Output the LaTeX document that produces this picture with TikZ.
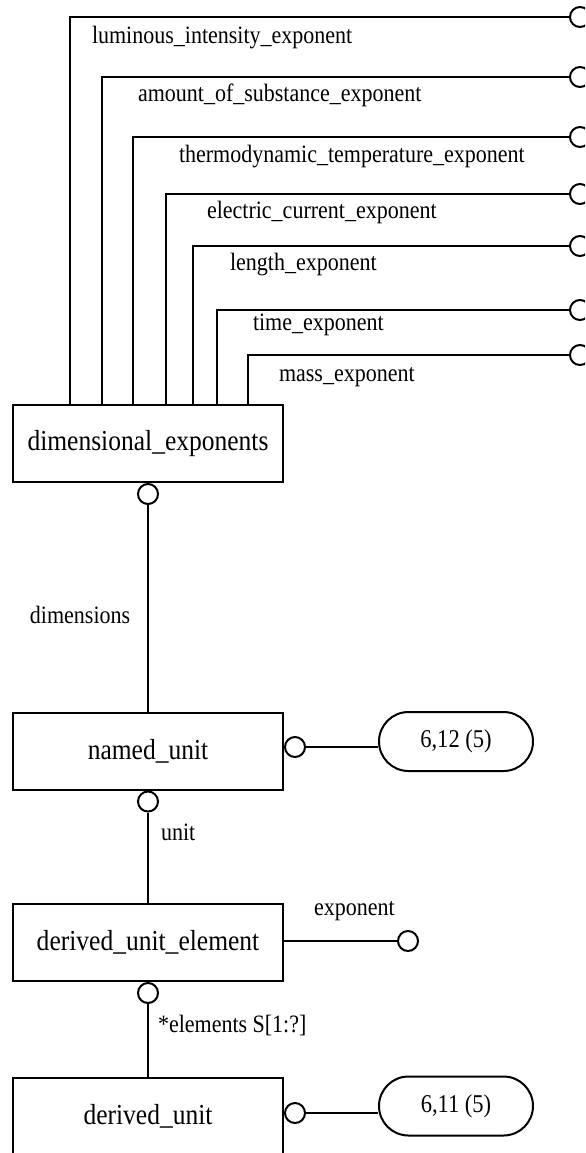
\documentclass[tikz,border=0pt]{standalone}
\usepackage{fontspec}
\setmainfont{Liberation Serif}[FakeStretch=0.88]
\usetikzlibrary{positioning}
\usetikzlibrary{shapes.misc}

\tikzset{
  entity/.style={draw, minimum width=135pt, minimum height=38.5pt, inner sep=0pt, font=\fontsize{14.5}{17}\selectfont},
  ring/.style={draw, circle, fill=white, minimum size=10pt, inner sep=0pt},
  pagebox/.style={draw, rounded rectangle, minimum width=77pt, minimum height=29.5pt, inner sep=0pt, font=\fontsize{12.8}{15}\selectfont},
  role/.style={inner sep=0pt, font=\fontsize{12.5}{15}\selectfont}
}

\begin{document}
\begin{tikzpicture}[x=0.5pt, y=-0.5pt, line width=1pt]
    \useasboundingbox (0,0) rectangle (585,1153);
    \clip (0,0) rectangle (585,1153);

    % Entities
    \node[entity] (dimexp) at (148,443.5) {dimensional\_exponents};
    \node[entity] (named) at (148,751) {named\_unit};
    \node[entity] (element) at (148,942.5) {derived\_unit\_element};
    \node[entity] (derived) at (148,1116) {derived\_unit};

    % Exponent attributes
    \foreach \i/\x/\y/\lx/\ly/\txt in {
        1/70/17/91/38/luminous\_intensity\_exponent,
        2/102/77/137/95/amount\_of\_substance\_exponent,
        3/133/137/178/157/thermodynamic\_temperature\_exponent,
        4/166/194/206/212/electric\_current\_exponent,
        5/193/246/229/265/length\_exponent,
        6/217/310/252/325/time\_exponent,
        7/248/355/278/377/mass\_exponent} {
        \node[ring] (att\i) at (580,\y) {};
        \coordinate (bend\i) at (\x,\y);
        \draw (bend\i |- dimexp.north) -- (bend\i) -- (att\i);
        \node[role, anchor=west] (lab\i) at (\lx,\ly) {\txt};
    }

    % dimensions
    \node[ring, anchor=north] (dimring) at (dimexp.south) {};
    \draw (dimring) -- (named.north);
    \node[role, anchor=west] (dimlab) at (29,615) {dimensions};

    % unit
    \node[ring, anchor=north] (unitring) at (named.south) {};
    \draw (unitring) -- (element.north);
    \node[role, anchor=west] (unitlab) at (160,832) {unit};

    % named_unit reference
    \node[ring, anchor=west] (namedring) at ([yshift=2pt]named.east) {};
    \node[pagebox] (ref12) at (456,741.5) {6,12 (5)};
    \draw (namedring) -- (namedring -| ref12.west);

    % exponent
    \node[ring] (expring) at (408,941) {};
    \draw (element.east |- expring) -- (expring);
    \node[role, anchor=west] (explab) at (313,911) {exponent};

    % elements
    \node[ring, anchor=north] (elemring) at (element.south) {};
    \draw (elemring) -- (derived.north);
    \node[role, anchor=west] (elemlab) at (157,1025) {*elements S[1:?]};

    % derived_unit reference
    \node[ring, anchor=west] (derivedring) at ([yshift=1.5pt]derived.east) {};
    \node[pagebox] (ref11) at (456,1106) {6,11 (5)};
    \draw (derivedring) -- (derivedring -| ref11.west);
\end{tikzpicture}
\end{document}
